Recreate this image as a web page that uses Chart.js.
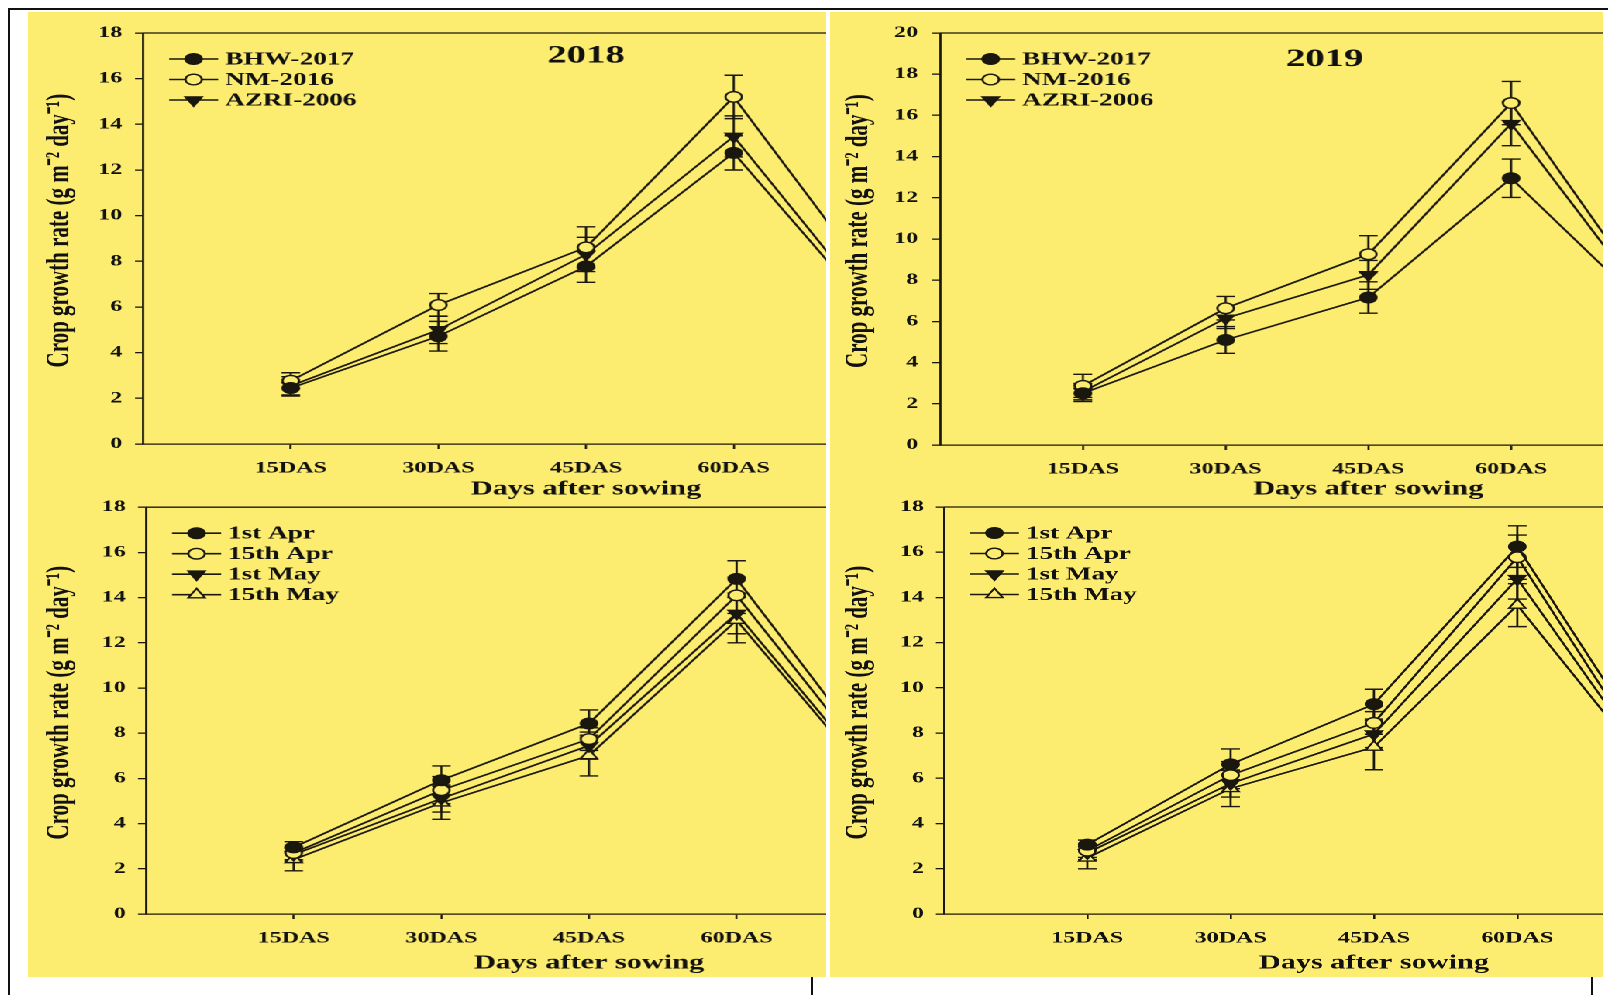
<!DOCTYPE html>
<html>
<head>
<meta charset="utf-8">
<script src="https://cdn.jsdelivr.net/npm/chart.js@4.4.0/dist/chart.umd.min.js"></script>
<style>
  html, body { margin: 0; padding: 0; background: #fff; }
  body { width: 1608px; height: 995px; position: relative; overflow: hidden; }
  .frame-top { position: absolute; left: 8px; top: 8px; width: 1600px; height: 2px; background: #111; }
  .frame-left { position: absolute; left: 8px; top: 8px; width: 2px; height: 987px; background: #111; }
  .col { position: absolute; top: 12px; height: 965px; overflow: hidden; background: rgb(252,236,112); }
  .inner { position: absolute; left: 0; top: 0; width: 1200px; height: 965px; transform: scaleX(1.55); transform-origin: 0 0; }
  .panel { position: absolute; }
  .stub { position: absolute; top: 977px; width: 2px; height: 18px; background: #111; }
</style>
</head>
<body>
<div class="frame-top"></div>
<div class="frame-left"></div>

<div class="col" style="left:28px; width:798px;">
  <div class="inner">
    <div class="panel" style="left:0; top:0; width:652.9px; height:489px;"><canvas id="c2018"></canvas></div>
    <div class="panel" style="left:0; top:478px; width:654.8px; height:485px;"><canvas id="s2018"></canvas></div>
  </div>
</div>
<div class="col" style="left:830px; width:773px;">
  <div class="inner">
    <div class="panel" style="left:0; top:0; width:630.7px; height:489px;"><canvas id="c2019"></canvas></div>
    <div class="panel" style="left:0; top:478px; width:636px; height:485px;"><canvas id="s2019"></canvas></div>
  </div>
</div>
<div class="stub" style="left:811px;"></div>
<div class="stub" style="left:1591px;"></div>

<script>
// sampling days (75DAS lies past the cropped right edge)
const days = [15, 30, 45, 60, 75];
const tickDays = [15, 30, 45, 60];
const tickLabels = ['15DAS', '30DAS', '45DAS', '60DAS'];

const varieties = ['BHW-2017', 'NM-2016', 'AZRI-2006'];
const sowingDates = ['1st Apr', '15th Apr', '1st May', '15th May'];

// varieties, 2018
const bhw2018 = [2.45, 4.72, 7.78, 12.75, 5.3];
const bhw2018Err = [0.35, 0.65, 0.7, 0.75, 0.5];
const nm2018 = [2.77, 6.09, 8.61, 15.2, 6.6];
const nm2018Err = [0.35, 0.5, 0.9, 0.95, 0.5];
const azri2018 = [2.55, 5.0, 8.3, 13.47, 5.5];
const azri2018Err = [0.4, 0.6, 0.75, 0.9, 0.5];

// varieties, 2019
const bhw2019 = [2.51, 5.1, 7.16, 12.95, 6.3];
const bhw2019Err = [0.4, 0.65, 0.76, 0.93, 0.5];
const nm2019 = [2.87, 6.64, 9.26, 16.6, 6.8];
const nm2019Err = [0.56, 0.57, 0.9, 1.05, 0.5];
const azri2019 = [2.59, 6.15, 8.26, 15.6, 6.5];
const azri2019Err = [0.4, 0.5, 0.7, 1.07, 0.5];

// sowing dates, 2018
const apr1_2018 = [2.95, 5.92, 8.43, 14.83, 6.3];
const apr1_2018Err = [0.25, 0.63, 0.6, 0.8, 0.5];
const apr15_2018 = [2.7, 5.48, 7.74, 14.1, 5.9];
const apr15_2018Err = [0.3, 0.6, 0.5, 0.8, 0.5];
const may1_2018 = [2.63, 5.11, 7.45, 13.3, 5.5];
const may1_2018Err = [0.3, 0.6, 0.6, 0.9, 0.5];
const may15_2018 = [2.41, 4.92, 7.01, 13.0, 5.3];
const may15_2018Err = [0.5, 0.73, 0.9, 1.0, 0.5];

// sowing dates, 2019
const apr1_2019 = [3.07, 6.62, 9.28, 16.25, 6.5];
const apr1_2019Err = [0.2, 0.68, 0.66, 0.92, 0.5];
const apr15_2019 = [2.8, 6.14, 8.45, 15.78, 6.0];
const apr15_2019Err = [0.3, 0.6, 0.5, 0.98, 0.5];
const may1_2019 = [2.7, 5.77, 7.96, 14.83, 5.9];
const may1_2019Err = [0.3, 0.6, 0.6, 0.9, 0.5];
const may15_2019 = [2.48, 5.55, 7.38, 13.66, 5.8];
const may15_2019Err = [0.48, 0.8, 1.0, 0.95, 0.5];

const S = 1.55; // the whole figure is stretched sideways
const yellow = 'rgb(252,236,112)';
const ink = '#1a170e';
const serif = '"Liberation Serif", "Times New Roman", serif';

const filledCircle = {shape: 'circle', r: 5.3, fill: true};
const openCircle = {shape: 'circle', r: 5.3, fill: false};
const filledDown = {shape: 'triangle', rot: 180, r: 6.2, fill: true};
const openUp = {shape: 'triangle', rot: 0, r: 6.2, fill: false};

function series(label, values, errors, m) {
  return {
    label: label,
    data: days.map((d, i) => ({x: d, y: values[i]})),
    errors: errors,
    borderColor: ink,
    borderWidth: 1.6,
    pointStyle: m.shape,
    pointRotation: m.rot || 0,
    pointRadius: m.r,
    pointBorderWidth: 1.4,
    pointBackgroundColor: m.fill ? ink : yellow,
    pointBorderColor: ink,
    tension: 0
  };
}

const plotFrame = {
  id: 'plotFrame',
  beforeDatasetsDraw(chart) {
    const {ctx, chartArea: a} = chart;
    ctx.save();
    ctx.strokeStyle = ink;
    ctx.lineWidth = 1.3;
    ctx.beginPath();
    ctx.moveTo(a.left, a.top);
    ctx.lineTo(a.right, a.top);
    ctx.lineTo(a.right, a.bottom);
    ctx.stroke();
    ctx.restore();
  }
};

const errorBars = {
  id: 'errorBars',
  beforeDatasetsDraw(chart) {
    const {ctx} = chart;
    const xs = chart.scales.x, ys = chart.scales.y;
    ctx.save();
    ctx.strokeStyle = ink;
    ctx.lineWidth = 1.4;
    chart.data.datasets.forEach(ds => {
      ds.data.forEach((p, i) => {
        const e = ds.errors[i];
        const px = xs.getPixelForValue(p.x);
        const hi = ys.getPixelForValue(p.y + e);
        const lo = ys.getPixelForValue(p.y - e);
        ctx.beginPath();
        ctx.moveTo(px, hi); ctx.lineTo(px, lo);
        ctx.moveTo(px - 6, hi); ctx.lineTo(px + 6, hi);
        ctx.moveTo(px - 6, lo); ctx.lineTo(px + 6, lo);
        ctx.stroke();
      });
    });
    ctx.restore();
  }
};

function marker(ctx, ds, x, y) {
  ctx.fillStyle = ds.pointBackgroundColor;
  ctx.strokeStyle = ds.pointBorderColor;
  ctx.lineWidth = ds.pointBorderWidth;
  Chart.helpers.drawPoint(ctx, {
    pointStyle: ds.pointStyle, rotation: ds.pointRotation,
    radius: ds.pointRadius, borderWidth: ds.pointBorderWidth
  }, x, y);
}

const insideLegend = {
  id: 'insideLegend',
  afterDatasetsDraw(chart) {
    const {ctx, chartArea: a} = chart;
    ctx.save();
    ctx.font = 'bold 17.5px ' + serif;
    ctx.textBaseline = 'middle';
    chart.data.datasets.forEach((ds, i) => {
      const y = a.top + 26 + i * 20.5;
      const x0 = a.left + 26 / S;
      const x1 = x0 + 49 / S;
      ctx.strokeStyle = ink;
      ctx.lineWidth = ds.borderWidth;
      ctx.beginPath(); ctx.moveTo(x0, y); ctx.lineTo(x1, y); ctx.stroke();
      marker(ctx, ds, (x0 + x1) / 2, y);
      ctx.fillStyle = '#111';
      ctx.fillText(ds.label, x1 + 7 / S, y + 1);
    });
    ctx.restore();
  }
};

const yearLabel = {
  id: 'yearLabel',
  afterDatasetsDraw(chart, args, opts) {
    if (!opts.text) return;
    const {ctx} = chart;
    ctx.save();
    ctx.font = 'bold 25px ' + serif;
    ctx.textAlign = 'center';
    ctx.textBaseline = 'middle';
    ctx.fillStyle = '#111';
    ctx.fillText(opts.text, chart.scales.x.getPixelForValue(opts.at[0]), chart.scales.y.getPixelForValue(opts.at[1]));
    ctx.restore();
  }
};

const tickFont = {family: serif, size: 15.5, weight: 'bold'};

function makeChart(id, geo, yMax, datasets, year) {
  return new Chart(document.getElementById(id), {
    type: 'line',
    data: {datasets: datasets},
    options: {
      responsive: true,
      maintainAspectRatio: false,
      animation: false,
      devicePixelRatio: 2,
      layout: {padding: {top: geo.padTop, left: 0, right: 0, bottom: 0}},
      plugins: {
        legend: {display: false},
        tooltip: {enabled: false},
        yearLabel: year || {}
      },
      scales: {
        x: {
          type: 'linear', min: 0, max: 90,
          afterFit: s => { s.height = geo.xHeight; },
          afterBuildTicks: s => { s.ticks = tickDays.map(v => ({value: v})); },
          ticks: {
            callback: v => tickLabels[tickDays.indexOf(v)],
            font: tickFont, color: '#111', padding: 10, maxRotation: 0, autoSkip: false
          },
          grid: {drawOnChartArea: false, drawTicks: true, tickLength: 5, color: ink, lineWidth: 1.3},
          border: {display: true, color: ink, width: 1.3},
          title: {
            display: true, text: 'Days after sowing', color: '#111',
            font: {family: serif, size: 19.5, weight: 'bold'}, padding: {top: 0, bottom: 0}
          }
        },
        y: {
          min: 0, max: yMax,
          afterFit: s => { s.width = geo.yWidth; },
          ticks: {stepSize: 2, font: tickFont, color: '#111', padding: geo.yPad},
          grid: {drawOnChartArea: false, drawTicks: true, tickLength: 5.2, color: ink, lineWidth: 1.3},
          border: {display: true, color: ink, width: 1.4},
          title: {
            display: true, text: '   Crop growth rate (g m\u207B\u00B2 day\u207B\u00B9)', color: '#111',
            font: {family: serif, size: 21, weight: 'bold'}, padding: {top: geo.yTitlePad, bottom: 0}
          }
        }
      }
    },
    plugins: [plotFrame, errorBars, insideLegend, yearLabel]
  });
}

makeChart('c2018', {padTop: 21, xHeight: 57, yWidth: 74.2, yPad: 8.3, yTitlePad: 8}, 18, [
  series(varieties[0], bhw2018, bhw2018Err, filledCircle),
  series(varieties[1], nm2018, nm2018Err, openCircle),
  series(varieties[2], azri2018, azri2018Err, filledDown)
], {text: '2018', at: [45, 17.0]});

makeChart('c2019', {padTop: 21, xHeight: 56, yWidth: 71.0, yPad: 9, yTitlePad: 6}, 20, [
  series(varieties[0], bhw2019, bhw2019Err, filledCircle),
  series(varieties[1], nm2019, nm2019Err, openCircle),
  series(varieties[2], azri2019, azri2019Err, filledDown)
], {text: '2019', at: [40.4, 18.7]});

makeChart('s2018', {padTop: 14, xHeight: 61, yWidth: 76.1, yPad: 7.9, yTitlePad: 8}, 18, [
  series(sowingDates[0], apr1_2018, apr1_2018Err, filledCircle),
  series(sowingDates[1], apr15_2018, apr15_2018Err, openCircle),
  series(sowingDates[2], may1_2018, may1_2018Err, filledDown),
  series(sowingDates[3], may15_2018, may15_2018Err, openUp)
]);

makeChart('s2019', {padTop: 15, xHeight: 61, yWidth: 73.5, yPad: 7.7, yTitlePad: 6}, 18, [
  series(sowingDates[0], apr1_2019, apr1_2019Err, filledCircle),
  series(sowingDates[1], apr15_2019, apr15_2019Err, openCircle),
  series(sowingDates[2], may1_2019, may1_2019Err, filledDown),
  series(sowingDates[3], may15_2019, may15_2019Err, openUp)
]);
</script>
</body>
</html>
